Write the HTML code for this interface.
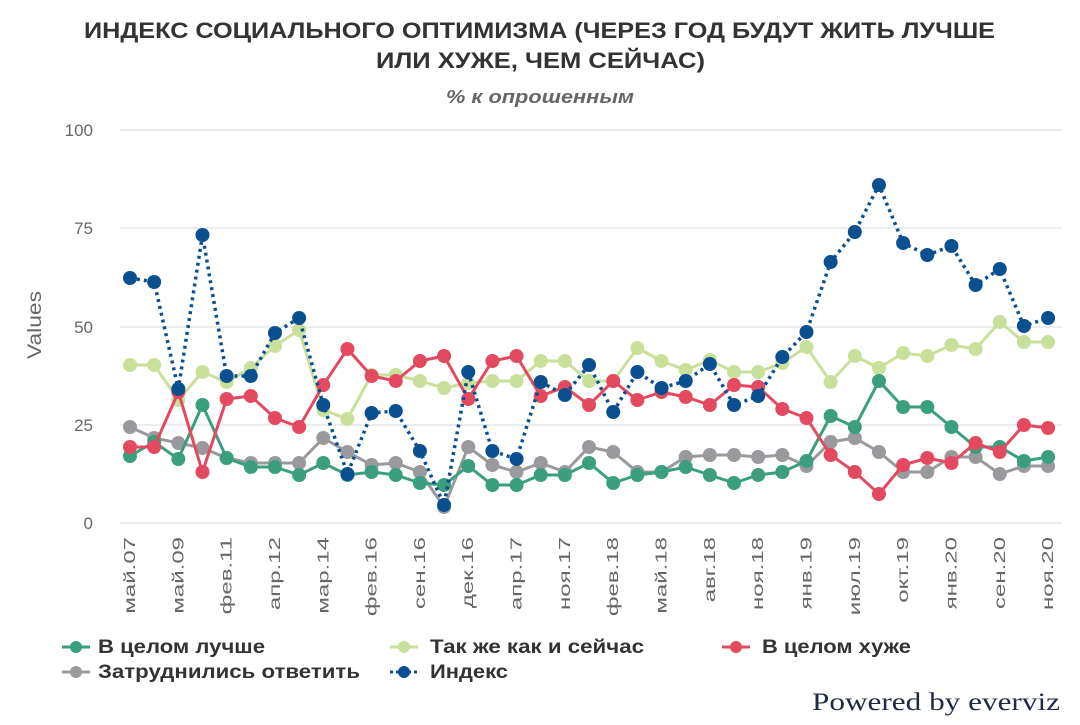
<!DOCTYPE html>
<html><head><meta charset="utf-8"><style>
body{margin:0;background:#fff;width:1080px;height:720px;overflow:hidden;font-family:"Liberation Sans",sans-serif}
</style></head><body>
<svg id="s" width="1080" height="720" xmlns="http://www.w3.org/2000/svg" font-family="Liberation Sans, sans-serif">
<text x="84" y="38" textLength="911" lengthAdjust="spacingAndGlyphs" font-size="22" font-weight="bold" fill="#333">ИНДЕКС СОЦИАЛЬНОГО ОПТИМИЗМА (ЧЕРЕЗ ГОД БУДУТ ЖИТЬ ЛУЧШЕ</text>
<text x="376" y="68" textLength="329" lengthAdjust="spacingAndGlyphs" font-size="22" font-weight="bold" fill="#333">ИЛИ ХУЖЕ, ЧЕМ СЕЙЧАС)</text>
<text x="446" y="103" textLength="188" lengthAdjust="spacingAndGlyphs" font-size="18" font-weight="bold" font-style="italic" fill="#666">% к опрошенным</text>
<g stroke="#e3e6ea" stroke-width="1.5">
<line x1="120" x2="1062" y1="130" y2="130"/><line x1="120" x2="1062" y1="228" y2="228"/><line x1="120" x2="1062" y1="327" y2="327"/><line x1="120" x2="1062" y1="425" y2="425"/><line x1="120" x2="1062" y1="523" y2="523"/>
</g>
<g font-size="17" fill="#666" text-anchor="end">
<text x="93" y="136">100</text><text x="93" y="234">75</text><text x="93" y="333">50</text><text x="93" y="431">25</text><text x="93" y="529">0</text>
</g>
<text transform="translate(41,325) rotate(-90)" text-anchor="middle" font-size="19" textLength="68" lengthAdjust="spacingAndGlyphs" fill="#666">Values</text>
<g id="xl" font-size="16" fill="#666"></g>
<g id="series"></g>
<g font-size="19" font-weight="bold" fill="#333">
<line x1="62" x2="90" y1="647" y2="647" stroke="#3a9e7f" stroke-width="3"/><circle cx="76" cy="647" r="6" fill="#3a9e7f"/><text x="98" y="653" textLength="167" lengthAdjust="spacingAndGlyphs">В целом лучше</text>
<line x1="390" x2="418" y1="647" y2="647" stroke="#c9e09a" stroke-width="3"/><circle cx="404" cy="647" r="6" fill="#c9e09a"/><text x="430" y="653" textLength="214" lengthAdjust="spacingAndGlyphs">Так же как и сейчас</text>
<line x1="722" x2="750" y1="647" y2="647" stroke="#e44a5f" stroke-width="3"/><circle cx="736" cy="647" r="6" fill="#e44a5f"/><text x="762" y="653" textLength="149" lengthAdjust="spacingAndGlyphs">В целом хуже</text>
<line x1="62" x2="90" y1="672" y2="672" stroke="#9a9a9e" stroke-width="3"/><circle cx="76" cy="672" r="6" fill="#9a9a9e"/><text x="98" y="678" textLength="262" lengthAdjust="spacingAndGlyphs">Затруднились ответить</text>
<line x1="390" x2="418" y1="672" y2="672" stroke="#0a4f8f" stroke-width="3" stroke-dasharray="3,3"/><circle cx="404" cy="672" r="6" fill="#0a4f8f"/><text x="430" y="678" textLength="78" lengthAdjust="spacingAndGlyphs">Индекс</text>
</g>
<text x="812" y="710" textLength="248" lengthAdjust="spacingAndGlyphs" font-family="Liberation Serif, serif" font-size="25" fill="#1f2a44">Powered by everviz</text>
</svg>
<script>
var NS="http://www.w3.org/2000/svg";
function X(i){return 130+i*24.16}
var S=[
["#9a9a9e",false,[427,438,443,448,458,463,463,463,438,452,465,463,472,507,447,465,472,463,472,447,452,472,472,457,455,455,457,455,466,442,438,452,472,472,457,457,474,466,466]],
["#c9e09a",false,[365,365,400,372,382,368,346,330,410,419,375,375,381,388,383,381,381,361,361,381,381,348,361,370,360,372,372,363,347,382,356,368,353,356,345,349,322,342,342]],
["#3a9e7f",false,[456,442,459,405,458,467,467,475,463,475,472,475,483,485,466,485,485,475,475,463,483,475,472,467,475,483,475,472,461,416,427,381,407,407,427,447,447,461,457]],
["#e44a5f",false,[447,447,392,472,399,396,418,427,385,349,376,381,361,356,399,361,356,396,387,405,381,400,392,397,405,385,387,409,418,455,472,494,465,458,463,443,452,425,428]],
["#0a4f8f",true,[278,282,389,235,376,376,333,318,405,474,413,411,451,505,372,451,459,382,395,365,412,372,388,381,364,405,396,357,332,262,232,185,243,255,246,285,269,326,318]]
];
var g=document.getElementById("series");
S.forEach(function(s){
 var p=document.createElementNS(NS,"polyline");
 p.setAttribute("points",s[2].map(function(y,i){return X(i)+","+y}).join(" "));
 p.setAttribute("fill","none");p.setAttribute("stroke",s[0]);p.setAttribute("stroke-width",s[1]?3.5:3);
 if(s[1])p.setAttribute("stroke-dasharray","3,4");
 g.appendChild(p);
 s[2].forEach(function(y,i){var c=document.createElementNS(NS,"circle");c.setAttribute("cx",X(i));c.setAttribute("cy",y);c.setAttribute("r",7);c.setAttribute("fill",s[0]);g.appendChild(c);});
});
var L=["май.07","май.09","фев.11","апр.12","мар.14","фев.16","сен.16","дек.16","апр.17","ноя.17","фев.18","май.18","авг.18","ноя.18","янв.19","июл.19","окт.19","янв.20","сен.20","ноя.20"];
var xl=document.getElementById("xl");
L.forEach(function(t,k){var e=document.createElementNS(NS,"text");var x=X(k*2)+5;e.setAttribute("transform","translate("+x+",537) rotate(-90)");e.setAttribute("text-anchor","end");e.textContent=t;xl.appendChild(e);
 try{var w=e.getComputedTextLength();e.setAttribute("textLength",(w*1.5).toFixed(1));e.setAttribute("lengthAdjust","spacingAndGlyphs");}catch(err){}
});
</script>
</body></html>
